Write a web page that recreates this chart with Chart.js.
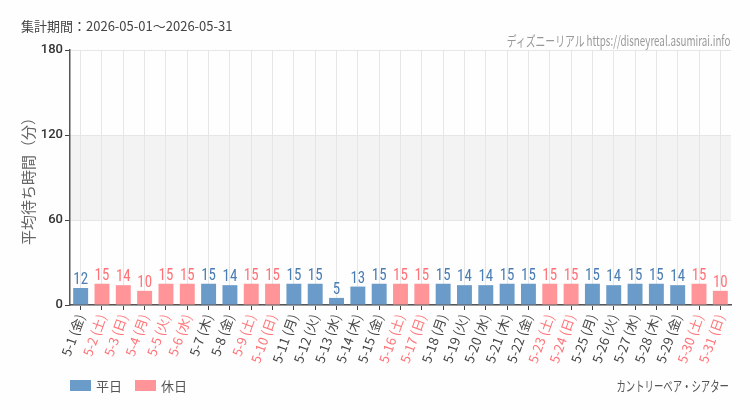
<!DOCTYPE html>
<html><head><meta charset="utf-8">
<script src="https://cdn.jsdelivr.net/npm/chart.js@4.4.1/dist/chart.umd.min.js"></script>
<style>
html,body{margin:0;padding:0;background:#fdfefd;}
#wrap{position:relative;width:750px;height:410px;font-family:"Noto Sans CJK JP","Noto Sans",sans-serif;}
canvas{position:absolute;left:0;top:0;}
.t{position:absolute;white-space:nowrap;line-height:1;}
#period{left:21px;top:19px;font-size:13px;color:#444;}
#src{right:20px;top:33px;font-size:14px;color:#999;transform:scaleX(0.70);transform-origin:right center;}
#attr{right:21px;top:378px;font-size:14px;color:#555;transform:scaleX(0.67);transform-origin:right center;}
#legend{left:70px;top:379px;font-size:13px;color:#555;display:flex;align-items:center;}
#legend span.box{display:inline-block;width:21px;height:11px;margin-right:5px;}
#legend span.lab{margin-right:13px;}
</style></head>
<body><div id="wrap">
<canvas id="c" width="750" height="410"></canvas>
<div class="t" id="period">集計期間：2026-05-01～2026-05-31</div>
<div class="t" id="src">ディズニーリアル https://disneyreal.asumirai.info</div>
<div class="t" id="attr">カントリーベア・シアター</div>
<div class="t" id="legend"><span class="box" style="background:#6b9bc8"></span><span class="lab">平日</span><span class="box" style="background:#ff9599"></span><span class="lab">休日</span></div>
</div>
<script>
const days = ["5-1","5-2","5-3","5-4","5-5","5-6","5-7","5-8","5-9","5-10","5-11","5-12","5-13","5-14","5-15","5-16","5-17","5-18","5-19","5-20","5-21","5-22","5-23","5-24","5-25","5-26","5-27","5-28","5-29","5-30","5-31"];
const weekdays = ["金","土","日","月","火","水","木","金","土","日","月","火","水","木","金","土","日","月","火","水","木","金","土","日","月","火","水","木","金","土","日"];
const holidays = [0,1,1,1,1,1,0,0,1,1,0,0,0,0,0,1,1,0,0,0,0,0,1,1,0,0,0,0,0,1,1];
const waitMinutes = [12,15,14,10,15,15,15,14,15,15,15,15,5,13,15,15,15,15,14,14,15,15,15,15,15,14,15,15,14,15,10];
const yTicks = [0,60,120,180];

const labels = days.map((d,i)=>d+" ("+weekdays[i]+")");
const BLUE="#6b9bc8", PINK="#ff9599", BLUE_T="#4a7db4", PINK_T="#ff7378";

const bandPlugin = {
  id:'band',
  beforeDraw(chart){
    const {ctx, chartArea:a, scales:{y}} = chart;
    ctx.save();
    ctx.fillStyle="#f3f3f3";
    const t=y.getPixelForValue(120), b=y.getPixelForValue(60);
    ctx.fillRect(a.left, t, a.right-a.left, b-t);
    ctx.restore();
  }
};
const labelPlugin = {
  id:'vals',
  afterDatasetsDraw(chart){
    const ctx=chart.ctx;
    const meta=chart.getDatasetMeta(0);
    ctx.save();
    ctx.font='17px "Liberation Sans Narrow","Roboto Condensed","DejaVu Sans Condensed",sans-serif';
    ctx.textAlign='center';ctx.textBaseline='alphabetic';
    meta.data.forEach((bar,i)=>{
      ctx.save();
      ctx.translate(bar.x, bar.y-4);
      ctx.scale(0.88,1);
      ctx.fillStyle=holidays[i]?PINK_T:BLUE_T;
      ctx.fillText(String(waitMinutes[i]), 0, 0);
      ctx.restore();
    });
    ctx.restore();
  }
};

new Chart(document.getElementById('c'),{
  type:'bar',
  data:{labels, datasets:[{
    label:'待ち時間',
    data:waitMinutes,
    backgroundColor:waitMinutes.map((v,i)=>holidays[i]?PINK:BLUE),
    barPercentage:0.7, categoryPercentage:1.0
  }]},
  options:{
    responsive:false, animation:false,
    layout:{padding:{top:50,left:0,right:19,bottom:45}},
    plugins:{legend:{display:false},tooltip:{enabled:false}},
    scales:{
      x:{
        grid:{offset:false,color:"#e6e6e6",tickColor:"#444",tickLength:5,drawTicks:true},
        border:{color:"#555",width:1.5},
        ticks:{
          minRotation:70,maxRotation:70,autoSkip:false,
          font:{size:13,family:'"Noto Sans CJK JP",sans-serif'},
          color:(c)=>holidays[c.index]?PINK_T:"#444",
          padding:2
        },
        afterFit(s){s.height=60;}
      },
      y:{
        min:0,max:180,
        afterBuildTicks(s){s.ticks=yTicks.map(v=>({value:v}));},
        grid:{color:"#e6e6e6",tickColor:"#444",tickLength:5},
        border:{color:"#555",width:1.5},
        ticks:{font:{size:13,weight:'500',family:'Roboto,"Noto Sans",sans-serif'},color:"#333",padding:2},
        title:{display:true,text:"平均待ち時間（分）",color:"#666",font:{size:15,family:'"Noto Sans CJK JP",sans-serif'},padding:{top:19,bottom:0}},
        afterFit(s){s.width=70;}
      }
    }
  },
  plugins:[bandPlugin,labelPlugin]
});
</script>
</body></html>
